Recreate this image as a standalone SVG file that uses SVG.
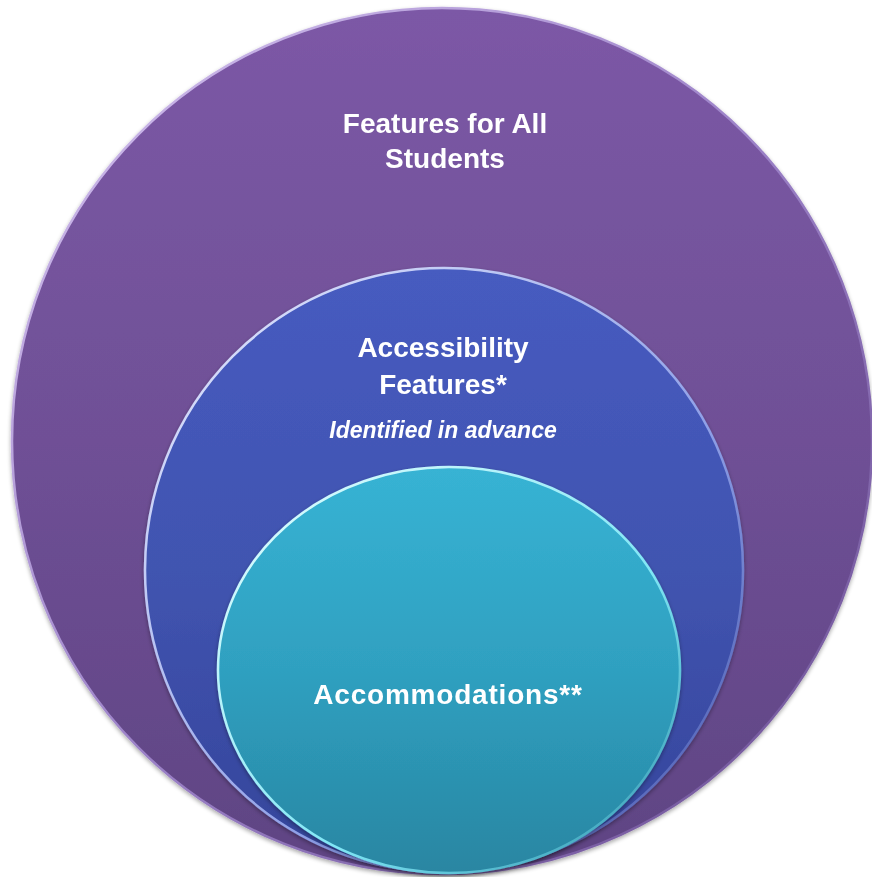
<svg xmlns="http://www.w3.org/2000/svg" width="872" height="877" viewBox="0 0 872 877">
<style>
.lbl{font-family:"Liberation Sans",Arial,sans-serif;font-weight:bold;fill:#ffffff;text-anchor:middle;}
.big{font-size:28px;}
.it{font-size:23px;font-style:italic;}
</style>
<defs>
<linearGradient id="gP" x1="0" y1="0" x2="0" y2="1">
<stop offset="0" stop-color="#7c58a6"/>
<stop offset="0.5" stop-color="#6f5096"/>
<stop offset="1" stop-color="#5f4483"/>
</linearGradient>
<linearGradient id="gB" x1="0" y1="0" x2="0" y2="1">
<stop offset="0" stop-color="#465bc0"/>
<stop offset="0.5" stop-color="#4154b0"/>
<stop offset="1" stop-color="#34449a"/>
</linearGradient>
<linearGradient id="gT" x1="0" y1="0" x2="0" y2="1">
<stop offset="0" stop-color="#37b3d4"/>
<stop offset="0.5" stop-color="#2fa0c0"/>
<stop offset="1" stop-color="#2986a2"/>
</linearGradient>
<linearGradient id="rimP" x1="0" y1="0" x2="1" y2="1">
<stop offset="0" stop-color="#d8c6f2"/>
<stop offset="0.5" stop-color="#9c82c8"/>
<stop offset="1" stop-color="#6a4e92"/>
</linearGradient>
<linearGradient id="rimB" x1="0" y1="0" x2="1" y2="1">
<stop offset="0" stop-color="#e8ecff"/>
<stop offset="0.6" stop-color="#8fa0e8"/>
<stop offset="1" stop-color="#3d4ea6"/>
</linearGradient>
<linearGradient id="rimT" x1="0" y1="0" x2="1" y2="1">
<stop offset="0" stop-color="#eaffff"/>
<stop offset="0.6" stop-color="#7fe6f5"/>
<stop offset="1" stop-color="#2c8ea9"/>
</linearGradient>
<filter id="sh" x="-10%" y="-10%" width="120%" height="125%">
<feGaussianBlur in="SourceAlpha" stdDeviation="2"/>
<feOffset dy="2" result="b"/>
<feComponentTransfer><feFuncA type="linear" slope="0.35"/></feComponentTransfer>
<feMerge><feMergeNode/><feMergeNode in="SourceGraphic"/></feMerge>
</filter>
</defs>
<rect width="872" height="877" fill="#ffffff"/>
<g id="outer" filter="url(#sh)">
<ellipse cx="442" cy="441" rx="430" ry="433" fill="url(#gP)" stroke="url(#rimP)" stroke-width="2.5"/>
<text class="lbl big" x="445" y="133">Features for All</text>
<text class="lbl big" x="445" y="168">Students</text>
</g>
<g id="middle" filter="url(#sh)">
<ellipse cx="444" cy="570" rx="299" ry="302" fill="url(#gB)" stroke="url(#rimB)" stroke-width="2.5"/>
<text class="lbl big" x="443" y="357">Accessibility</text>
<text class="lbl big" x="443" y="394">Features*</text>
<text class="lbl it" x="443" y="438">Identified in advance</text>
</g>
<g id="inner" filter="url(#sh)">
<ellipse cx="449" cy="670" rx="231" ry="203" fill="url(#gT)" stroke="url(#rimT)" stroke-width="2.5"/>
<text class="lbl big" x="448" y="704" letter-spacing="0.8">Accommodations**</text>
</g>
<g id="connectors"/>
</svg>
